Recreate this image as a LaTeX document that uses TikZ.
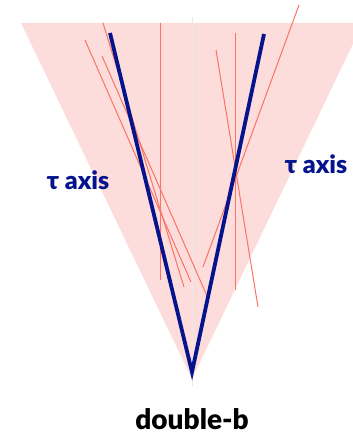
\documentclass[tikz,border=0pt]{standalone}
\usepackage{fontspec}
\setmainfont{Lato}[BoldFont={Lato Black}]
\definecolor{pinkfill}{RGB}{253,221,220}
\definecolor{redline}{RGB}{250,115,100}
\definecolor{navy}{RGB}{5,20,140}
\definecolor{axisgray}{RGB}{236,232,232}
\begin{document}
\begin{tikzpicture}[x=1pt,y=-1pt,
  cone/.style={fill=pinkfill,draw=none},
  track/.style={draw=redline,line width=1pt},
  bjet/.style={draw=navy,line width=3.8pt},
  axislabel/.style={text=navy,font=\bfseries\fontsize{25}{30}\selectfont,inner sep=0pt},
  title/.style={text=black,font=\bfseries\fontsize{28}{33}\selectfont,inner sep=0pt}]
\useasboundingbox (0,0) rectangle (353,436);
\begin{scope}
\clip (0,0) rectangle (353,436);
% cone
\coordinate (cl) at (21,23);
\coordinate (cr) at (363,23);
\coordinate (ap) at (192,379);
\fill[cone] (cl) -- (cr) -- (ap) -- cycle;
% faint centre line
\coordinate (ct) at (192,17);
\coordinate (cb) at (192,386);
\draw[axisgray,line width=0.6pt] (ct) -- (cb);
% tracks
\coordinate (t1a) at (160,23);  \coordinate (t1b) at (160,280);
\coordinate (t2a) at (85,40);   \coordinate (t2b) at (191,282);
\coordinate (t3a) at (102,56);  \coordinate (t3b) at (207,296);
\coordinate (t4a) at (103,23);  \coordinate (t4b) at (184,287);
\coordinate (t5a) at (235,33);  \coordinate (t5b) at (235,290);
\coordinate (t6a) at (216,50);  \coordinate (t6b) at (258,307);
\coordinate (t7a) at (299,5);   \coordinate (t7b) at (203,267);
\foreach \i in {1,...,7} {\draw[track] (t\i a) -- (t\i b);}
% b jets
\coordinate (bl) at (110,33);
\coordinate (br) at (264,34);
\coordinate (bv) at (192,372);
\draw[bjet,line join=miter] (bl) -- (bv) -- (br);
\end{scope}
% labels
\node[axislabel] (lax) at (78,180) {τ axis};
\node[axislabel] (rax) at (316,164) {τ axis};
\node[title] (db) at (192,419) {double-b};
\end{tikzpicture}
\end{document}
